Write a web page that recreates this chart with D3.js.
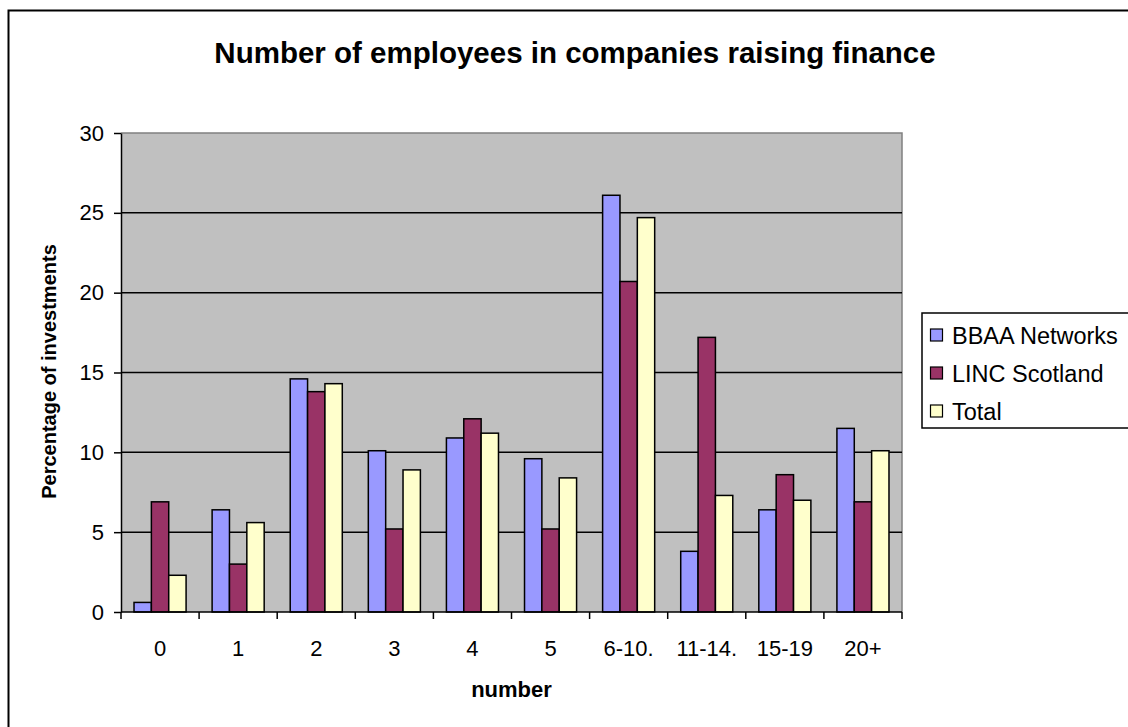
<!DOCTYPE html>
<html>
<head>
<meta charset="utf-8">
<script src="https://cdn.jsdelivr.net/npm/d3@7"></script>
<style>
  html, body { margin: 0; padding: 0; background: #fff; }
  svg { display: block; font-family: "Liberation Sans", Arial, sans-serif; }
</style>
</head>
<body>
<svg id="chart" width="1128" height="727"></svg>
<script>
// Employee-size bands and the share of investments in each
const categories = ["0", "1", "2", "3", "4", "5", "6-10.", "11-14.", "15-19", "20+"];
const seriesNames = ["BBAA Networks", "LINC Scotland", "Total"];
const bbaaValues  = [0.6, 6.4, 14.6, 10.1, 10.9, 9.6, 26.1, 3.8, 6.4, 11.5];
const lincValues  = [6.9, 3.0, 13.8, 5.2, 12.1, 5.2, 20.7, 17.2, 8.6, 6.9];
const totalValues = [2.3, 5.6, 14.3, 8.9, 11.2, 8.4, 24.7, 7.3, 7.0, 10.1];
const seriesColors = ["#9999FF", "#993366", "#FFFFCC"];
const yTicks = [0, 5, 10, 15, 20, 25, 30];

const seriesValues = [bbaaValues, lincValues, totalValues];

const svg = d3.select("#chart");

// Chart area frame
svg.append("rect")
  .attr("x", 8.5).attr("y", 10.5)
  .attr("width", 1140).attr("height", 740)
  .attr("fill", "#fff").attr("stroke", "#000").attr("stroke-width", 2);

const plot = { left: 121, top: 133, right: 902, bottom: 612 };

const x = d3.scaleBand()
  .domain(categories)
  .range([plot.left, plot.right])
  .paddingInner(0).paddingOuter(0);

// 150% gap: three bars plus one-and-a-half bar widths per category
const xInner = d3.scaleBand()
  .domain(seriesNames)
  .range([0, x.bandwidth()])
  .paddingInner(0)
  .paddingOuter(0.75);

const y = d3.scaleLinear().domain([0, 30]).range([plot.bottom, plot.top]);

// Plot area background
svg.append("rect")
  .attr("x", plot.left).attr("y", plot.top)
  .attr("width", plot.right - plot.left).attr("height", plot.bottom - plot.top)
  .attr("fill", "#C0C0C0");

// Plot area outline (top and right)
svg.append("path")
  .attr("d", `M${plot.left},${plot.top}H${plot.right}V${plot.bottom}`)
  .attr("fill", "none").attr("stroke", "#808080").attr("stroke-width", 1.5);

// Horizontal gridlines
svg.append("g")
  .selectAll("line")
  .data(yTicks.filter(t => t > 0 && t < 30))
  .join("line")
  .attr("x1", plot.left).attr("x2", plot.right)
  .attr("y1", d => y(d)).attr("y2", d => y(d))
  .attr("stroke", "#000").attr("stroke-width", 1.5);

// Bars
const groups = svg.append("g")
  .selectAll("g")
  .data(categories)
  .join("g")
  .attr("transform", d => `translate(${x(d)},0)`);

groups.selectAll("rect")
  .data((c, i) => seriesNames.map((s, k) => ({ series: s, value: seriesValues[k][i], k })))
  .join("rect")
  .attr("x", d => xInner(d.series))
  .attr("y", d => y(d.value))
  .attr("width", xInner.bandwidth())
  .attr("height", d => y(0) - y(d.value))
  .attr("fill", d => seriesColors[d.k])
  .attr("stroke", "#000").attr("stroke-width", 1.5);

// Y axis
const yAxis = d3.axisLeft(y).tickValues(yTicks).tickSize(7).tickPadding(10).tickSizeOuter(0);
const gy = svg.append("g").attr("transform", `translate(${plot.left},0)`).call(yAxis);
gy.select(".domain").attr("stroke", "#000").attr("stroke-width", 1.5);
gy.selectAll(".tick line").attr("stroke", "#000").attr("stroke-width", 1.5);
gy.selectAll(".tick text").attr("font-size", 22).attr("fill", "#000")
  .attr("font-family", "Liberation Sans, Arial, sans-serif");

// X axis: ticks sit on category boundaries
const gx = svg.append("g").attr("transform", `translate(0,${plot.bottom})`);
gx.append("line")
  .attr("x1", plot.left).attr("x2", plot.right)
  .attr("stroke", "#000").attr("stroke-width", 1.5);
const boundaries = categories.map(c => x(c)).concat([plot.right]);
gx.selectAll("line.tk")
  .data(boundaries)
  .join("line").attr("class", "tk")
  .attr("x1", d => d).attr("x2", d => d)
  .attr("y1", 0).attr("y2", 7)
  .attr("stroke", "#000").attr("stroke-width", 1.5);
gx.selectAll("text")
  .data(categories)
  .join("text")
  .attr("x", d => x(d) + x.bandwidth() / 2)
  .attr("y", 44)
  .attr("text-anchor", "middle")
  .attr("font-size", 22)
  .text(d => d);

// Titles
svg.append("text")
  .attr("x", 575).attr("y", 63)
  .attr("text-anchor", "middle")
  .attr("font-size", 29.5).attr("font-weight", "bold")
  .text("Number of employees in companies raising finance");

svg.append("text")
  .attr("x", (plot.left + plot.right) / 2).attr("y", 697)
  .attr("text-anchor", "middle")
  .attr("font-size", 22).attr("font-weight", "bold")
  .text("number");

svg.append("text")
  .attr("transform", `translate(56,${(plot.top + plot.bottom) / 2 - 1}) rotate(-90)`)
  .attr("text-anchor", "middle")
  .attr("font-size", 20).attr("font-weight", "bold")
  .text("Percentage of investments");

// Legend
const legend = svg.append("g");
legend.append("rect")
  .attr("x", 922).attr("y", 313)
  .attr("width", 220).attr("height", 115)
  .attr("fill", "#fff").attr("stroke", "#000").attr("stroke-width", 1.5);
const items = legend.selectAll("g.item")
  .data(seriesNames)
  .join("g").attr("class", "item")
  .attr("transform", (d, i) => `translate(0,${335 + i * 38})`);
items.append("rect")
  .attr("x", 930.5).attr("y", -6)
  .attr("width", 12).attr("height", 12)
  .attr("fill", (d, i) => seriesColors[i])
  .attr("stroke", "#000").attr("stroke-width", 1.2);
items.append("text")
  .attr("x", 952).attr("y", 8.5)
  .attr("font-size", 23.5)
  .text(d => d);
</script>
</body>
</html>
